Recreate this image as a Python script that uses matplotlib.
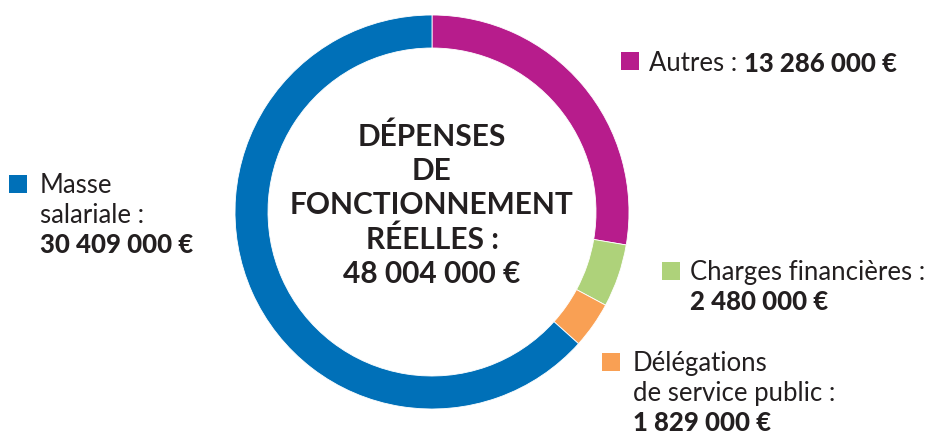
import matplotlib
matplotlib.use('Agg')
import matplotlib.pyplot as plt

# Data (clockwise from 12 o'clock)
categories = ['Autres', 'Charges financières', 'Délégations de service public', 'Masse salariale']
values = [13286000, 2480000, 1829000, 30409000]
colors = ['#B71C8C', '#AED27A', '#F9A054', '#0070B8']
value_labels = ['13 286 000 €', '2 480 000 €', '1 829 000 €', '30 409 000 €']
total_label = '48 004 000 €'

txt_col = '#231F20'
plt.rcParams['font.family'] = ['Lato', 'DejaVu Sans']
FS = 18.5

W, H = 944, 436
fig = plt.figure(figsize=(W / 100, H / 100), dpi=100)
ax = fig.add_axes([0, 0, 1, 1])

ax.pie(values, colors=colors, startangle=90, counterclock=False,
       radius=197, center=(432, H - 212),
       wedgeprops=dict(width=33, edgecolor='white', linewidth=0.6))
ax.set_xlim(0, W)
ax.set_ylim(0, H)
ax.set_aspect('equal')
ax.axis('off')

# centre title
ax.text(432, H - 205, 'DÉPENSES\nDE\nFONCTIONNEMENT\nRÉELLES :\n' + total_label,
        ha='center', va='center', fontsize=21.5, fontweight='bold',
        color=txt_col, linespacing=1.27)


def square(x, y, c):
    # y is pixel-from-top of the square's top edge
    ax.add_patch(plt.Rectangle((x, H - y - 18), 18, 18, color=c, lw=0))


def line(x, y, s, bold=False):
    # y = baseline, pixels from top
    return ax.text(x, H - y, s, ha='left', va='baseline', fontsize=FS,
                   fontweight='black' if bold else 'normal', color=txt_col)


def mixed(x, y, s1, s2):
    t = line(x, y, s1)
    ax.annotate(s2, xy=(1, 0), xycoords=t, va='bottom', ha='left',
                fontsize=FS, fontweight='black', color=txt_col)


# Autres
square(621, 52, colors[0])
mixed(649, 71, 'Autres : ', value_labels[0])

# Charges financières
square(662, 262, colors[1])
line(690, 280, 'Charges financières :')
line(690, 310, value_labels[1], bold=True)

# Délégations
square(602, 353, colors[2])
line(633, 371, 'Délégations')
line(633, 401, 'de service public :')
line(633, 431, value_labels[2], bold=True)

# Masse salariale
square(9, 175, colors[3])
line(40, 193, 'Masse')
line(40, 223, 'salariale :')
line(40, 253, value_labels[3], bold=True)

fig.savefig('out.png', dpi=100)
